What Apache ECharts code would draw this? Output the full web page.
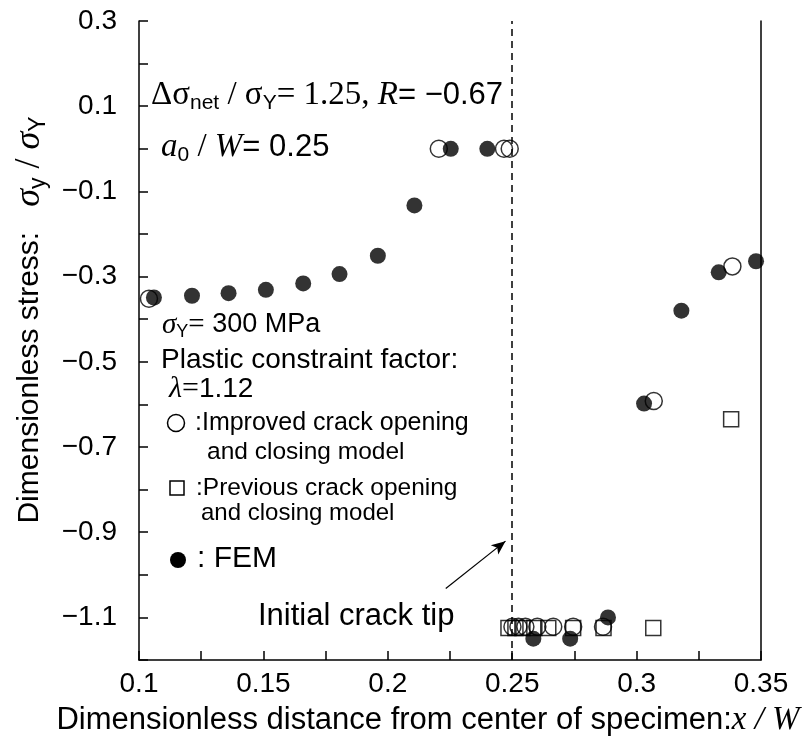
<!DOCTYPE html>
<html>
<head>
<meta charset="utf-8">
<script src="https://cdn.jsdelivr.net/npm/echarts@6/dist/echarts.min.js"></script>
<style>
  html, body { margin: 0; padding: 0; background: #fff; }
  #chart { width: 806px; height: 743px; }
</style>
</head>
<body>
<div id="chart"></div>
<script>
// ---------- data ----------
const improvedX = [0.104, 0.2205, 0.2467, 0.249, 0.2501, 0.2525, 0.2553, 0.2601, 0.2665, 0.2745, 0.2865, 0.3069, 0.3385];
const improvedY = [-0.352, 0.0, 0.0, 0.0, -1.122, -1.122, -1.122, -1.122, -1.122, -1.122, -1.122, -0.592, -0.276];

const previousX = [0.2485, 0.2513, 0.2541, 0.2589, 0.2645, 0.2745, 0.2867, 0.3067, 0.338];
const previousY = [-1.125, -1.125, -1.125, -1.125, -1.125, -1.125, -1.125, -1.125, -0.635];

const femX = [0.106, 0.1213, 0.136, 0.151, 0.166, 0.1806, 0.196, 0.2107, 0.2253, 0.240, 0.2585, 0.2733, 0.2885, 0.303, 0.318, 0.333, 0.348];
const femY = [-0.349, -0.345, -0.339, -0.331, -0.316, -0.294, -0.251, -0.133, 0.0, 0.0, -1.15, -1.15, -1.10, -0.598, -0.380, -0.290, -0.264];

const crackTipX = 0.25;
const arrowFrom = [0.2233, -1.032];
const arrowTo = [0.2473, -0.921];

const SANS = 'Liberation Sans, Arial, sans-serif';
const SERIF = 'Liberation Serif, Times New Roman, serif';
const FS = 28;

const zip = (xs, ys) => xs.map((x, i) => [x, ys[i]]);
const minus = s => s.replace('-', '\u2212');

// rich text styles, built per font size
const richOf = (fs, sfs) => {
  sfs = sfs || fs + 2;
  return {
    a: { fontFamily: SANS, fontSize: fs, lineHeight: sfs + 4, color: '#000' },
    t: { fontFamily: SERIF, fontSize: sfs, lineHeight: sfs + 4, color: '#000' },
    ti: { fontFamily: SERIF, fontSize: sfs, fontStyle: 'italic', lineHeight: sfs + 4, color: '#000' },
    sub: { fontFamily: SANS, fontSize: Math.round(sfs * 0.63), lineHeight: Math.round(sfs * 0.63), verticalAlign: 'bottom', color: '#000' }
  };
};

const txt = (x, y, text, fs, align) => ({
  type: 'text', x, y, silent: true,
  style: {
    text, rich: richOf(fs || FS), fill: '#000',
    align: align || 'left', verticalAlign: 'middle',
    textAlign: align || 'left', textVerticalAlign: 'middle'
  }
});

const chart = echarts.init(document.getElementById('chart'), null, { renderer: 'canvas' });

const option = {
  backgroundColor: '#fff',
  animation: false,
  grid: { left: 139, right: 45, top: 21, bottom: 83 },
  xAxis: {
    type: 'value', min: 0.1, max: 0.35, interval: 0.025,
    axisLine: { show: true, onZero: false, lineStyle: { color: '#000', width: 1.5 } },
    axisTick: { inside: true, length: 9, lineStyle: { color: '#000', width: 1.5 } },
    splitLine: { show: false },
    axisLabel: {
      color: '#000', fontFamily: SANS, fontSize: FS, margin: 10,
      formatter: v => (Math.round(v * 1000) % 50 === 0 ? String(+v.toFixed(3)) : '')
    }
  },
  yAxis: [
    {
      type: 'value', min: -1.2, max: 0.3, interval: 0.1,
      axisLine: { show: true, onZero: false, lineStyle: { color: '#000', width: 1.5 } },
      axisTick: { inside: true, length: 9, lineStyle: { color: '#000', width: 1.5 } },
      splitLine: { show: false },
      axisLabel: {
        color: '#000', fontFamily: SANS, fontSize: FS, margin: 22,
        formatter: v => (Math.abs(Math.round(v * 10)) % 2 === 1 ? minus(v.toFixed(1)) : '')
      }
    },
    {
      type: 'value', position: 'right', min: -1.2, max: 0.3,
      axisLine: { show: true, onZero: false, lineStyle: { color: '#000', width: 1.5 } },
      axisTick: { show: false }, axisLabel: { show: false }, splitLine: { show: false }
    }
  ],
  series: [
    {
      name: 'Previous', type: 'scatter', data: zip(previousX, previousY),
      symbol: 'rect', symbolSize: 15,
      itemStyle: { color: 'rgba(0,0,0,0)', borderColor: '#000', borderWidth: 1.5 },
      markLine: {
        silent: true, symbol: 'none', label: { show: false },
        lineStyle: { color: '#000', width: 1.5, type: [7, 5] },
        data: [{ xAxis: crackTipX }]
      }
    },
    {
      name: 'Improved', type: 'scatter', data: zip(improvedX, improvedY),
      symbol: 'circle', symbolSize: 17,
      itemStyle: { color: 'rgba(0,0,0,0)', borderColor: '#000', borderWidth: 1.5 }
    },
    {
      name: 'FEM', type: 'scatter', data: zip(femX, femY),
      symbol: 'circle', symbolSize: 16,
      itemStyle: { color: '#000' },
      markLine: {
        silent: true, symbol: ['none', 'arrow'], symbolSize: [9, 14], label: { show: false },
        lineStyle: { color: '#000', width: 1.2, type: 'solid' },
        data: [[{ coord: arrowFrom }, { coord: arrowTo }]]
      }
    }
  ],
  graphic: [
    txt(151, 95, '{t|\u0394\u03c3}{sub|net}{t| / \u03c3}{sub|Y}{t|= 1.25, }{ti|R}{a|= \u22120.67}', 31),
    txt(161, 147, '{ti|a}{sub|0}{t| / }{ti|W}{a|= 0.25}', 31),
    txt(162, 325, '{ti|\u03c3}{sub|Y}{t|=}{a| 300 MPa}', 27),
    txt(161, 360, '{a|Plastic constraint factor:}', 28),
    txt(169, 389, '{ti|\u03bb}{t|=}{a|1.12}', 28),
    txt(195, 423, '{a|:Improved crack opening}', 25),
    txt(207, 452, '{a|and closing model}', 24.5),
    txt(196, 488, '{a|:Previous crack opening}', 24.5),
    txt(201, 513, '{a|and closing model}', 24),
    txt(197, 559, '{a|: FEM}', 30),
    txt(258, 616, '{a|Initial crack tip}', 31),
    // legend symbols
    { type: 'circle', silent: true, shape: { cx: 176, cy: 423, r: 8.5 }, style: { fill: 'none', stroke: '#000', lineWidth: 1.5 } },
    { type: 'rect', silent: true, shape: { x: 170, y: 481, width: 14, height: 14 }, style: { fill: 'none', stroke: '#000', lineWidth: 1.5 } },
    { type: 'circle', silent: true, shape: { cx: 178, cy: 560, r: 8 }, style: { fill: '#000' } },
    // axis titles
    txt(428, 720, '{a|Dimensionless distance from center of specimen:}{ti|x / W}', 31, 'center'),
    {
      type: 'text', x: 30, y: 320, rotation: Math.PI / 2, silent: true,
      style: {
        text: '{a|Dimensionless stress:   }{ti|\u03c3}{sub|y}{t| / }{ti|\u03c3}{sub|Y}',
        rich: richOf(30, 36),
        align: 'center', verticalAlign: 'middle', textAlign: 'center', textVerticalAlign: 'middle'
      }
    }
  ]
};

chart.setOption(option);
</script>
</body>
</html>
